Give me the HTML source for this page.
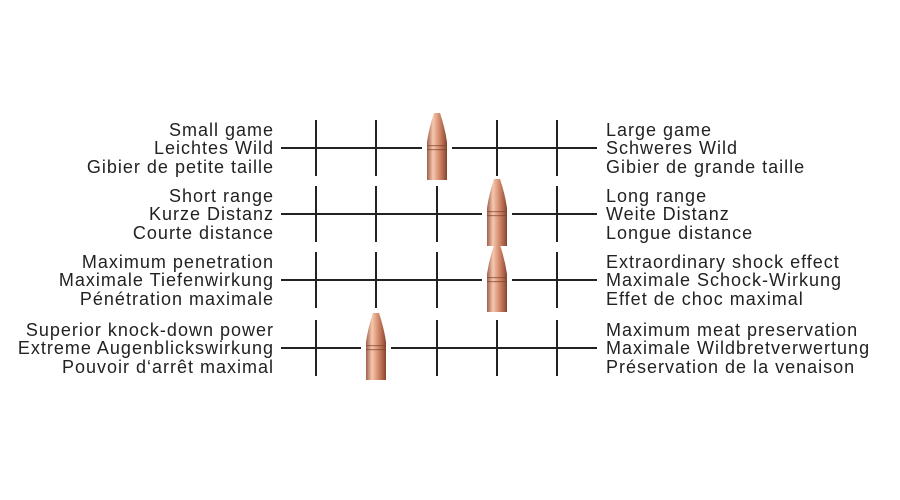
<!DOCTYPE html>
<html><head><meta charset="utf-8"><style>
body{margin:0;background:#fff;width:900px;height:500px;overflow:hidden}
svg{display:block}
text{font-family:"Liberation Sans",sans-serif;font-size:18px;letter-spacing:1px;fill:#222}
</style></head><body>
<svg width="900" height="500" viewBox="0 0 900 500">
<defs>
<linearGradient id="g" x1="0" x2="1" y1="0" y2="0">
<stop offset="0" stop-color="#a0604a"/><stop offset="0.3" stop-color="#f5c8b0"/><stop offset="0.55" stop-color="#dc9678"/><stop offset="0.85" stop-color="#aa6046"/><stop offset="1" stop-color="#80442e"/>
</linearGradient>
<g id="b">
<path d="M-3,-35 L3,-35 Q8,-20 10,-6 L10,32 L-10,32 L-10,-6 Q-8,-20 -3,-35 Z" fill="url(#g)"/>
<rect x="-10" y="-3" width="20" height="1.2" fill="#7a3f28" opacity=".6"/>
<rect x="-10" y="1" width="20" height="1.2" fill="#7a3f28" opacity=".6"/>
</g>
<g id="t" stroke="#222" stroke-width="2">
<line x1="316" y1="-28" x2="316" y2="28"/><line x1="376" y1="-28" x2="376" y2="28"/><line x1="437" y1="-28" x2="437" y2="28"/><line x1="497" y1="-28" x2="497" y2="28"/><line x1="557" y1="-28" x2="557" y2="28"/>
</g>
</defs>
<g transform="translate(0,148)">
<use href="#t"/><line x1="281" y1="0" x2="422" y2="0" stroke="#222" stroke-width="2"/><line x1="452" y1="0" x2="597" y2="0" stroke="#222" stroke-width="2"/>
<rect x="424" y="-30" width="26" height="60" fill="#fff"/><use href="#b" transform="translate(437,0)"/>
<text x="274" y="-12" text-anchor="end">Small game</text><text x="274" y="6" text-anchor="end">Leichtes Wild</text><text x="274" y="25" text-anchor="end">Gibier de petite taille</text>
<text x="606" y="-12">Large game</text><text x="606" y="6">Schweres Wild</text><text x="606" y="25">Gibier de grande taille</text>
</g>
<g transform="translate(0,214)">
<use href="#t"/><line x1="281" y1="0" x2="482" y2="0" stroke="#222" stroke-width="2"/><line x1="512" y1="0" x2="597" y2="0" stroke="#222" stroke-width="2"/>
<rect x="484" y="-30" width="26" height="60" fill="#fff"/><use href="#b" transform="translate(497,0)"/>
<text x="274" y="-12" text-anchor="end">Short range</text><text x="274" y="6" text-anchor="end">Kurze Distanz</text><text x="274" y="25" text-anchor="end">Courte distance</text>
<text x="606" y="-12">Long range</text><text x="606" y="6">Weite Distanz</text><text x="606" y="25">Longue distance</text>
</g>
<g transform="translate(0,280)">
<use href="#t"/><line x1="281" y1="0" x2="482" y2="0" stroke="#222" stroke-width="2"/><line x1="512" y1="0" x2="597" y2="0" stroke="#222" stroke-width="2"/>
<rect x="484" y="-30" width="26" height="60" fill="#fff"/><use href="#b" transform="translate(497,0)"/>
<text x="274" y="-12" text-anchor="end">Maximum penetration</text><text x="274" y="6" text-anchor="end">Maximale Tiefenwirkung</text><text x="274" y="25" text-anchor="end">Pénétration maximale</text>
<text x="606" y="-12">Extraordinary shock effect</text><text x="606" y="6">Maximale Schock-Wirkung</text><text x="606" y="25">Effet de choc maximal</text>
</g>
<g transform="translate(0,348)">
<use href="#t"/><line x1="281" y1="0" x2="361" y2="0" stroke="#222" stroke-width="2"/><line x1="391" y1="0" x2="597" y2="0" stroke="#222" stroke-width="2"/>
<rect x="363" y="-30" width="26" height="60" fill="#fff"/><use href="#b" transform="translate(376,0)"/>
<text x="274" y="-12" text-anchor="end">Superior knock-down power</text><text x="274" y="6" text-anchor="end">Extreme Augenblickswirkung</text><text x="274" y="25" text-anchor="end">Pouvoir d‘arrêt maximal</text>
<text x="606" y="-12">Maximum meat preservation</text><text x="606" y="6">Maximale Wildbretverwertung</text><text x="606" y="25">Préservation de la venaison</text>
</g>
</svg>
</body></html>
